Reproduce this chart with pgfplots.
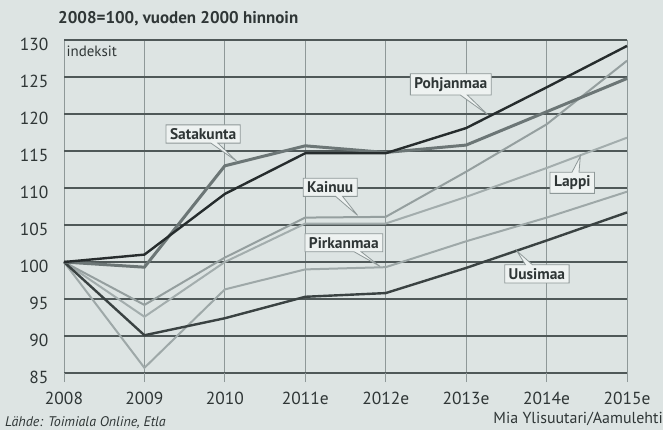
\documentclass[border=0pt]{standalone}
\usepackage{fontspec}
\setmainfont{PT Sans}
\usepackage{pgfplots}
\pgfplotsset{compat=1.18}
\usetikzlibrary{shapes.callouts}
\definecolor{bg}{HTML}{DDE4E3}
\definecolor{gridh}{HTML}{4F5858}
\definecolor{gridv}{HTML}{8E9898}
\definecolor{txt}{HTML}{2F3636}
\definecolor{cPoh}{HTML}{262C2D}
\definecolor{cUus}{HTML}{3A4242}
\definecolor{cSat}{HTML}{6C7676}
\definecolor{cKai}{HTML}{959F9F}
\definecolor{cLap}{HTML}{A3ADAD}
\definecolor{cPir}{HTML}{9EA8A8}
\definecolor{boxf}{HTML}{EEF2F1}
\begin{document}
\begin{tikzpicture}
\fill[bg] (0,0) rectangle (663bp,430bp);
\useasboundingbox (0,0) rectangle (663bp,430bp);
\begin{axis}[
  at={(64bp,57bp)}, anchor=south west,
  scale only axis, width=563bp, height=333bp,
  xmin=0, xmax=7, ymin=85, ymax=130,
  xtick={0,...,7},
  xticklabels={2008,2009,2010,2011e,2012e,2013e,2014e,2015e},
  ytick={85,90,...,130},
  axis line style={draw=none},
  xmajorgrids, ymajorgrids,
  x grid style={color=gridv, line width=1bp},
  y grid style={color=gridh, line width=1.3bp},
  tick align=outside,
  major tick length=9bp,
  x tick style={color=gridv, line width=1bp},
  y tick style={draw=none},
  xtick pos=bottom,
  /pgf/number format/assume math mode=true,
  tick label style={font=\fontsize{17.5}{17.5}\selectfont, text=txt},
  xticklabel style={yshift=-7bp},
  yticklabel style={yshift=-4bp, xshift=-3bp},
  clip=false,
]
\addplot[cPir, line width=2bp] coordinates {(0,100)(1,85.7)(2,96.3)(3,99)(4,99.3)(5,102.8)(6,106)(7,109.5)};
\addplot[cLap, line width=2bp] coordinates {(0,100)(1,92.6)(2,100)(3,105.2)(4,105.2)(5,108.8)(6,112.7)(7,116.8)};
\addplot[cKai, line width=2bp] coordinates {(0,100)(1,94.2)(2,100.6)(3,106)(4,106.1)(5,112.2)(6,118.6)(7,127.2)};
\addplot[cUus, line width=2.4bp] coordinates {(0,100)(1,90.1)(2,92.4)(3,95.3)(4,95.8)(5,99.2)(6,102.9)(7,106.7)};
\addplot[cSat, line width=3bp] coordinates {(0,100)(1,99.3)(2,113)(3,115.7)(4,114.8)(5,115.8)(6,120.3)(7,124.8)};
\addplot[cPoh, line width=2.4bp] coordinates {(0,100)(1,101)(2,109.2)(3,114.7)(4,114.7)(5,118.1)(6,123.6)(7,129.2)};

\tikzset{lab/.style={rectangle callout, fill=boxf, draw=gridv, line width=0.8bp,
  callout pointer width=7bp, inner xsep=4bp, inner ysep=3.5bp,
  font=\fontsize{15.5}{15.5}\selectfont\bfseries, text=txt}}
\node[lab, callout absolute pointer={(axis cs:2.15,113.6)}] at (axis cs:1.73,117.3) {Satakunta};
\node[lab, callout absolute pointer={(axis cs:5.27,119.9)}] at (axis cs:4.81,124.0) {Pohjanmaa};
\node[lab, callout absolute pointer={(axis cs:3.65,106.3)}] at (axis cs:3.31,110.1) {Kainuu};
\node[lab, callout absolute pointer={(axis cs:6.42,114.3)}] at (axis cs:6.32,110.7) {Lappi};
\node[lab, callout absolute pointer={(axis cs:3.93,99.4)}] at (axis cs:3.48,102.6) {Pirkanmaa};
\node[lab, callout absolute pointer={(axis cs:5.63,101.5)}] at (axis cs:5.88,98.4) {Uusimaa};
\node[anchor=north west, inner sep=0pt, font=\fontsize{15}{15}\selectfont, text=txt] at (axis cs:0.03,129.2) {indeksit};
\end{axis}
\node[anchor=base west, inner sep=0pt, font=\fontsize{17}{17}\selectfont\bfseries, text=txt] at (58bp,406bp) {2008=100, vuoden 2000 hinnoin};
\node[anchor=base west, inner sep=0pt, font=\fontsize{14}{14}\selectfont\itshape, text=txt] at (5bp,4bp) {Lähde: Toimiala Online, Etla};
\node[anchor=base east, inner sep=0pt, font=\fontsize{16}{16}\selectfont, text=txt] at (663bp,7bp) {Mia Ylisuutari/Aamulehti};
\end{tikzpicture}
\end{document}
